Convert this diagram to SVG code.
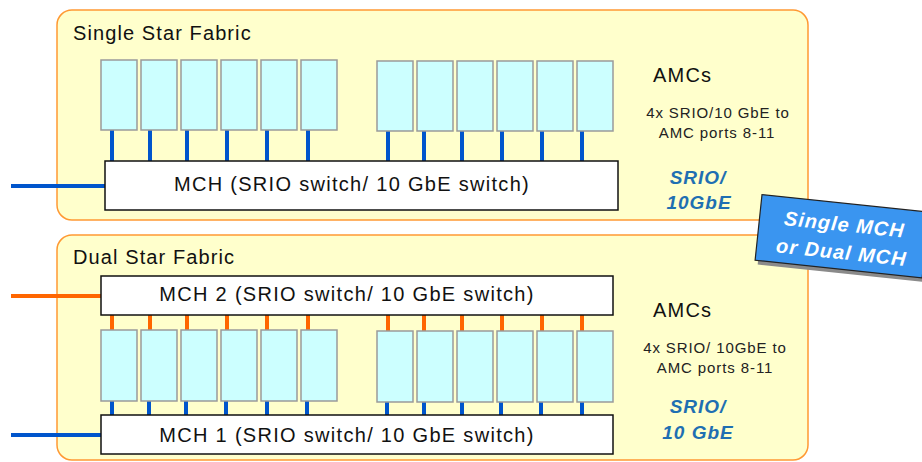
<svg xmlns="http://www.w3.org/2000/svg" width="922" height="462" viewBox="0 0 922 462">
<style>
text{font-family:"Liberation Sans",Arial,sans-serif;fill:#111}
.panel{fill:#FFFFCC;stroke:#FF9933;stroke-width:1.5}
.amc{fill:#CCFFFF;stroke:#9A9A9A;stroke-width:1.5}
.mch{fill:#FFFFFF;stroke:#111111;stroke-width:1.5}
.title{font-size:20px;letter-spacing:1.1px}
.mtxt{font-size:20px;letter-spacing:1.3px;text-anchor:middle}
.amcs{font-size:20px;letter-spacing:1.2px}
.small{font-size:15px;letter-spacing:0.9px;text-anchor:middle;fill:#222}
.proto{font-size:19px;font-weight:bold;font-style:italic;fill:#1F6FB2;text-anchor:middle;letter-spacing:1px}
.blue{stroke:#0055CC;stroke-width:4;fill:none}
.orange{stroke:#FF6600;stroke-width:4;fill:none}
.call{font-size:20px;font-weight:bold;font-style:italic;fill:#FFFFFF;text-anchor:middle;letter-spacing:1px}
</style>
<defs>
<rect id="amcTop" class="amc" width="36" height="70"/>
<rect id="amcBot" class="amc" width="36" height="71"/>
</defs>

<g id="single-star-panel">
<rect class="panel" x="57" y="10" width="751" height="210" rx="15"/>
<text class="title" x="73" y="40">Single Star Fabric</text>
</g>

<g id="dual-star-panel">
<rect class="panel" x="57" y="235" width="751" height="225" rx="15"/>
<text class="title" x="73" y="264">Dual Star Fabric</text>
</g>

<g id="connectors">
<path class="blue" d="M112 130V161M150 130V161M187 130V161M227 130V161M267 130V161M308 130V161M388 131V161M424 131V161M462 131V161M502 131V161M542 131V161M582 131V161"/>
<path class="blue" d="M11 186H105"/>
<path class="orange" d="M112 315V330M150 315V330M187 315V330M227 315V330M267 315V330M308 315V330M388 315V331M424 315V331M462 315V331M502 315V331M542 315V331M582 315V331"/>
<path class="orange" d="M11 296H101"/>
<path class="blue" d="M112 401V415M149 401V415M186 401V415M226 401V415M267 401V415M307 401V415M387 401V415M424 401V415M462 401V415M501 401V415M541 401V415M582 401V415"/>
<path class="blue" d="M11 435H101"/>
</g>

<g id="single-amcs">
<use href="#amcTop" x="101" y="60"/><use href="#amcTop" x="141" y="60"/><use href="#amcTop" x="181" y="60"/>
<use href="#amcTop" x="221" y="60"/><use href="#amcTop" x="261" y="60"/><use href="#amcTop" x="301" y="60"/>
<use href="#amcTop" x="377" y="61"/><use href="#amcTop" x="417" y="61"/><use href="#amcTop" x="457" y="61"/>
<use href="#amcTop" x="497" y="61"/><use href="#amcTop" x="537" y="61"/><use href="#amcTop" x="577" y="61"/>
</g>

<g id="single-mch">
<rect class="mch" x="105" y="161" width="513" height="49"/>
<text class="mtxt" x="352" y="191">MCH (SRIO switch/ 10 GbE switch)</text>
</g>

<g id="single-labels">
<text class="amcs" x="653" y="82">AMCs</text>
<text class="small" x="718" y="118">4x SRIO/10 GbE to</text>
<text class="small" x="717" y="138">AMC ports 8-11</text>
<text class="proto" x="698" y="184">SRIO/</text>
<text class="proto" x="699" y="209">10GbE</text>
</g>

<g id="dual-mch2">
<rect class="mch" x="101" y="276" width="512" height="39"/>
<text class="mtxt" x="347" y="301">MCH 2 (SRIO switch/ 10 GbE switch)</text>
</g>

<g id="dual-amcs">
<use href="#amcBot" x="101" y="330"/><use href="#amcBot" x="141" y="330"/><use href="#amcBot" x="181" y="330"/>
<use href="#amcBot" x="221" y="330"/><use href="#amcBot" x="261" y="330"/><use href="#amcBot" x="301" y="330"/>
<use href="#amcBot" x="377" y="331"/><use href="#amcBot" x="417" y="331"/><use href="#amcBot" x="457" y="331"/>
<use href="#amcBot" x="497" y="331"/><use href="#amcBot" x="537" y="331"/><use href="#amcBot" x="577" y="331"/>
</g>

<g id="dual-mch1">
<rect class="mch" x="101" y="415" width="512" height="39"/>
<text class="mtxt" x="347" y="442">MCH 1 (SRIO switch/ 10 GbE switch)</text>
</g>

<g id="dual-labels">
<text class="amcs" x="653" y="317">AMCs</text>
<text class="small" x="715" y="353">4x SRIO/ 10GbE to</text>
<text class="small" x="715" y="373">AMC ports 8-11</text>
<text class="proto" x="698" y="413">SRIO/</text>
<text class="proto" x="698" y="439">10 GbE</text>
</g>

<g id="callout" transform="translate(840,237) rotate(6)">
<rect x="-79" y="-30" width="168" height="66" fill="#8A8A8A"/>
<rect x="-82" y="-34" width="168" height="66" fill="#3A95F0" stroke="#222" stroke-width="1.2"/>
<text class="call" x="3" y="-6">Single MCH</text>
<text class="call" x="3" y="22">or Dual MCH</text>
</g>
</svg>
